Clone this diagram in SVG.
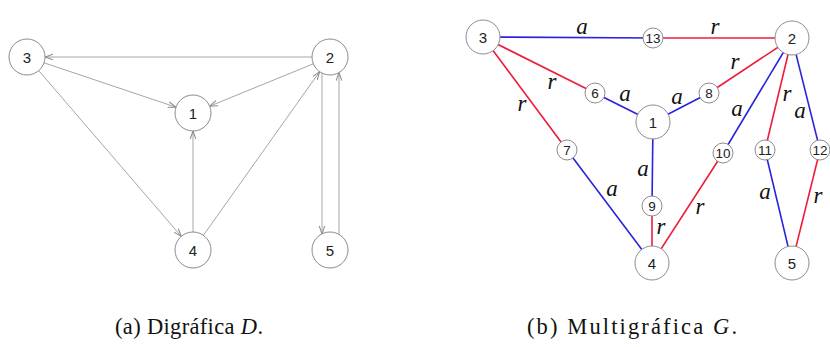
<svg xmlns="http://www.w3.org/2000/svg" width="830" height="347" viewBox="0 0 830 347">
<style>
.bg{fill:#fff}
.dn circle{fill:#fff;stroke:#8c8c8c;stroke-width:1}
.dn text{font-family:"Liberation Sans",Arial,sans-serif;font-size:15px;fill:#222;text-anchor:middle}
.de line{stroke:#a6a6a6;stroke-width:1;marker-end:url(#arr)}
.mn circle{fill:#fff;stroke:#8c8c8c;stroke-width:1}
.mn text{font-family:"Liberation Sans",Arial,sans-serif;fill:#222;text-anchor:middle}
.big text{font-size:15px}
.sm text{font-size:13.5px}
.b{stroke:#2a22dc;stroke-width:1.6}
.r{stroke:#ee1c3c;stroke-width:1.6}
.lab{font-family:"Liberation Serif","Times New Roman",serif;font-style:italic;font-size:23px;fill:#111;text-anchor:middle}
.cap{font-family:"Liberation Serif","Times New Roman",serif;font-size:22.5px;fill:#111}
</style>
<defs>
<marker id="arr" viewBox="0 0 10 10" refX="10" refY="5" markerWidth="8" markerHeight="8" markerUnits="userSpaceOnUse" orient="auto">
<path d="M0,1.5 L10,5 L0,8.5" fill="none" stroke="#8a8a8a" stroke-width="1.3"/>
</marker>
</defs>
<rect class="bg" x="0" y="0" width="830" height="347"/>

<!-- Left digraph D -->
<g id="edges-D" class="de">
<line x1="312" y1="57" x2="45" y2="57"/>
<line x1="44" y1="62.8" x2="176" y2="107.2"/>
<line x1="313.3" y1="63.8" x2="209.7" y2="106.2"/>
<line x1="38.7" y1="70.6" x2="181.3" y2="236.4"/>
<line x1="193" y1="232" x2="193" y2="131"/>
<line x1="203.4" y1="235.3" x2="319.6" y2="71.7"/>
<line x1="322" y1="73.1" x2="322" y2="233.9"/>
<line x1="339" y1="234.4" x2="339" y2="72.6"/>
</g>
<g id="D-node-3" class="dn"><circle cx="27" cy="57" r="18"/><text x="27" y="62.5">3</text></g>
<g id="D-node-2" class="dn"><circle cx="330" cy="57" r="18"/><text x="330" y="62.5">2</text></g>
<g id="D-node-1" class="dn"><circle cx="193" cy="113" r="18"/><text x="193" y="118.5">1</text></g>
<g id="D-node-4" class="dn"><circle cx="193" cy="250" r="18"/><text x="193" y="255.5">4</text></g>
<g id="D-node-5" class="dn"><circle cx="330" cy="250" r="18"/><text x="330" y="255.5">5</text></g>

<!-- Right multigraph G -->
<g id="edges-G">
<line class="b" x1="483" y1="37" x2="653" y2="38"/>
<line class="r" x1="653" y1="38" x2="792" y2="38"/>
<line class="r" x1="483" y1="37" x2="595" y2="93"/>
<line class="b" x1="595" y1="93" x2="653" y2="122"/>
<line class="b" x1="653" y1="122" x2="709" y2="93"/>
<line class="r" x1="709" y1="93" x2="792" y2="38"/>
<line class="r" x1="483" y1="37" x2="567" y2="150"/>
<line class="b" x1="567" y1="150" x2="652" y2="263"/>
<line class="b" x1="653" y1="122" x2="652" y2="206"/>
<line class="r" x1="652" y1="206" x2="652" y2="263"/>
<line class="r" x1="723" y1="153" x2="652" y2="263"/>
<line class="b" x1="792" y1="38" x2="723" y2="153"/>
<line class="r" x1="792" y1="38" x2="765" y2="150"/>
<line class="b" x1="765" y1="150" x2="792" y2="263"/>
<line class="b" x1="792" y1="38" x2="820" y2="150"/>
<line class="r" x1="820" y1="150" x2="792" y2="263"/>
</g>
<g id="edge-labels-G">
<text class="lab" x="582" y="34">a</text>
<text class="lab" x="715" y="34">r</text>
<text class="lab" x="552" y="89">r</text>
<text class="lab" x="625" y="101">a</text>
<text class="lab" x="522" y="111">r</text>
<text class="lab" x="677" y="104">a</text>
<text class="lab" x="735" y="69">r</text>
<text class="lab" x="737" y="116">a</text>
<text class="lab" x="787" y="101">r</text>
<text class="lab" x="800" y="118">a</text>
<text class="lab" x="612" y="196">a</text>
<text class="lab" x="643" y="176">a</text>
<text class="lab" x="661" y="234">r</text>
<text class="lab" x="700" y="214">r</text>
<text class="lab" x="765" y="199">a</text>
<text class="lab" x="818" y="203">r</text>
</g>
<g id="G-node-3" class="mn big"><circle cx="483" cy="37" r="17"/><text x="483" y="42.5">3</text></g>
<g id="G-node-2" class="mn big"><circle cx="792" cy="38" r="17"/><text x="792" y="43.5">2</text></g>
<g id="G-node-1" class="mn big"><circle cx="653" cy="122" r="17"/><text x="653" y="127.5">1</text></g>
<g id="G-node-4" class="mn big"><circle cx="652" cy="263" r="17"/><text x="652" y="268.5">4</text></g>
<g id="G-node-5" class="mn big"><circle cx="792" cy="263" r="17"/><text x="792" y="268.5">5</text></g>
<g id="G-node-13" class="mn sm"><circle cx="653" cy="38" r="10"/><text x="653" y="42.8">13</text></g>
<g id="G-node-6" class="mn sm"><circle cx="595" cy="93" r="10"/><text x="595" y="97.8">6</text></g>
<g id="G-node-8" class="mn sm"><circle cx="709" cy="93" r="10"/><text x="709" y="97.8">8</text></g>
<g id="G-node-7" class="mn sm"><circle cx="567" cy="150" r="10"/><text x="567" y="154.8">7</text></g>
<g id="G-node-10" class="mn sm"><circle cx="723" cy="153" r="10"/><text x="723" y="157.8">10</text></g>
<g id="G-node-11" class="mn sm"><circle cx="765" cy="150" r="10"/><text x="765" y="154.8">11</text></g>
<g id="G-node-12" class="mn sm"><circle cx="820" cy="150" r="10"/><text x="820" y="154.8">12</text></g>
<g id="G-node-9" class="mn sm"><circle cx="652" cy="206" r="10"/><text x="652" y="210.8">9</text></g>

<!-- Captions -->
<text class="cap" x="115" y="334" textLength="148" lengthAdjust="spacing">(a) Digráfica <tspan font-style="italic">D</tspan>.</text>
<text class="cap" x="527" y="334" textLength="210" lengthAdjust="spacing">(b) Multigráfica <tspan font-style="italic">G</tspan>.</text>
</svg>
